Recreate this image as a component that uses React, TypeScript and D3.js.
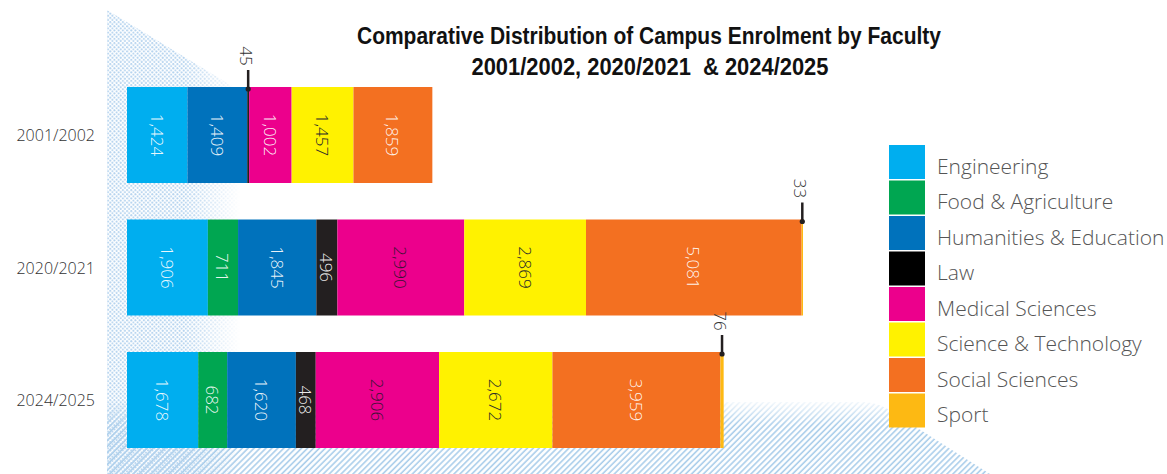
import React from 'react';
import * as d3 from 'd3';

const years = ['2001/2002', '2020/2021', '2024/2025'];
const faculties = [
  'Engineering',
  'Food & Agriculture',
  'Humanities & Education',
  'Law',
  'Medical Sciences',
  'Science & Technology',
  'Social Sciences',
  'Sport',
];
const facultyColors = ['#00AEEF', '#00A651', '#0072BC', '#231F20', '#EC008C', '#FFF200', '#F37021', '#FDB913'];
const legendColors = ['#00AEEF', '#00A651', '#0072BC', '#000000', '#EC008C', '#FFF200', '#F37021', '#FDB913'];

const engineering = [1424, 1906, 1678];
const foodAgriculture = [0, 711, 682];
const humanities = [1409, 1845, 1620];
const law = [45, 496, 468];
const medical = [1002, 2990, 2906];
const scienceTech = [1457, 2869, 2672];
const social = [1859, 5081, 3959];
const sport = [0, 33, 76];

const series = [engineering, foodAgriculture, humanities, law, medical, scienceTech, social, sport];

const titleLines = [
  'Comparative Distribution of Campus Enrolment by Faculty',
  '2001/2002, 2020/2021  & 2024/2025',
];

const W = 1167;
const H = 474;

const rows = years.map((y, i) => {
  const r: any = { year: y };
  faculties.forEach((f, j) => (r[f] = series[j][i]));
  return r;
});

const stacked = d3.stack<any>().keys(faculties)(rows);
const totals = rows.map((r) => d3.sum(faculties, (f) => r[f]));
const maxTotal = d3.max(totals) as number;

const x = d3.scaleLinear().domain([0, maxTotal]).range([127, 803]);
const y = d3.scaleBand<string>().domain(years).range([87, 448]).paddingInner(0.2755).paddingOuter(0);

const fmt = d3.format(',');
const LIGHT = "'Open Sans', 'DejaVu Sans', sans-serif";

function labelColor(fi: number, v: number) {
  if (fi === 5) return '#2b2b2b';
  if (fi === 4 && v > 2000) return '#3b1233';
  return 'rgba(255,255,255,0.92)';
}

export default function App() {
  const bw = y.bandwidth();
  return (
    <svg width={W} height={H} style={{ position: 'absolute', left: 0, top: 0, background: '#fff' }}>
      <defs>
        <pattern id="dots" width="4.2" height="4.2" patternUnits="userSpaceOnUse">
          <circle cx="1.05" cy="1.05" r="1" fill="#b3d2ee" />
          <circle cx="3.15" cy="3.15" r="1" fill="#b3d2ee" />
        </pattern>
        <pattern id="hatch" width="4.2" height="4.2" patternUnits="userSpaceOnUse" patternTransform="rotate(45)">
          <line x1="1" y1="0" x2="1" y2="4.2" stroke="#a9cdea" strokeWidth="1.6" />
        </pattern>
        <linearGradient id="fadeX" gradientUnits="userSpaceOnUse" x1="185" y1="0" x2="240" y2="0">
          <stop offset="0" stopColor="#fff" stopOpacity="1" />
          <stop offset="1" stopColor="#fff" stopOpacity="0" />
        </linearGradient>
        <linearGradient id="fadeY" gradientUnits="userSpaceOnUse" x1="0" y1="398" x2="0" y2="425">
          <stop offset="0" stopColor="#fff" stopOpacity="0" />
          <stop offset="1" stopColor="#fff" stopOpacity="1" />
        </linearGradient>
        <mask id="maskDots">
          <rect x="0" y="0" width={W} height={H} fill="url(#fadeX)" />
        </mask>
        <mask id="maskHatch">
          <rect x="0" y="0" width={W} height={H} fill="url(#fadeY)" />
        </mask>
      </defs>

      {/* background decoration */}
      <path d="M107,474 L107,402 L860,402 C880,402 890,410 900,417 L990,474 Z" fill="url(#hatch)" mask="url(#maskHatch)" />
      <path d="M107,10 L440,212 L440,474 L107,474 Z" fill="url(#dots)" mask="url(#maskDots)" />

      {/* title */}
      <g fontFamily="'Liberation Sans', Arial, sans-serif" fontWeight="700" fontSize="23" fill="#111" textAnchor="middle">
        <text x={649} y={44} textLength={584} lengthAdjust="spacingAndGlyphs">{titleLines[0]}</text>
        <text x={650} y={75} textLength={357} lengthAdjust="spacingAndGlyphs" style={{ whiteSpace: 'pre' }}>{titleLines[1]}</text>
      </g>

      {/* category labels */}
      <g fontFamily={LIGHT} fontWeight="300" fontSize="16" fill="#333" textAnchor="end">
        {years.map((yr) => (
          <text key={yr} x={95} y={(y(yr) as number) + bw / 2} dominantBaseline="central">
            {yr}
          </text>
        ))}
      </g>

      {/* bars */}
      {stacked.map((s, fi) => (
        <g key={s.key} fill={facultyColors[fi]}>
          {s.map((d, i) => {
            const v = d[1] - d[0];
            if (v <= 0) return null;
            return (
              <rect key={i} x={x(d[0])} y={y(years[i])} width={x(d[1]) - x(d[0])} height={bw} />
            );
          })}
        </g>
      ))}

      {/* inside labels */}
      {stacked.map((s, fi) => (
        <g key={'l' + s.key} fontFamily={LIGHT} fontWeight="300" fontSize="17">
          {s.map((d, i) => {
            const v = d[1] - d[0];
            if (v < 100) return null;
            const cx = (x(d[0]) + x(d[1])) / 2;
            const cy = (y(years[i]) as number) + bw / 2;
            return (
              <text
                key={i}
                transform={`translate(${cx},${cy}) rotate(90)`}
                textAnchor="middle"
                dominantBaseline="central"
                fill={labelColor(fi, v)}
              >
                {fmt(v)}
              </text>
            );
          })}
        </g>
      ))}

      {/* callouts for tiny segments */}
      {stacked.map((s, fi) => (
        <g key={'c' + s.key}>
          {s.map((d, i) => {
            const v = d[1] - d[0];
            if (v <= 0 || v >= 100) return null;
            const cx = (x(d[0]) + x(d[1])) / 2;
            const top = y(years[i]) as number;
            return (
              <g key={i}>
                <line x1={cx} x2={cx} y1={top + 2} y2={top - 17} stroke="#231F20" strokeWidth={2.5} />
                <circle cx={cx} cy={top + 2} r={2.6} fill="#231F20" />
                <text
                  transform={`translate(${cx - 2},${top - 31}) rotate(90)`}
                  textAnchor="middle"
                  dominantBaseline="central"
                  fontFamily={LIGHT}
                  fontWeight="300"
                  fontSize="17"
                  fill="#333"
                >
                  {fmt(v)}
                </text>
              </g>
            );
          })}
        </g>
      ))}

      {/* legend */}
      <g>
        {faculties.map((f, i) => (
          <g key={f} transform={`translate(889,${145 + i * 35.5})`}>
            <rect x={0} y={0} width={36} height={34} fill={legendColors[i]} />
            <text x={48} y={28.5} fontFamily={LIGHT} fontWeight="300" fontSize="21" fill="#555">
              {f}
            </text>
          </g>
        ))}
      </g>
    </svg>
  );
}
